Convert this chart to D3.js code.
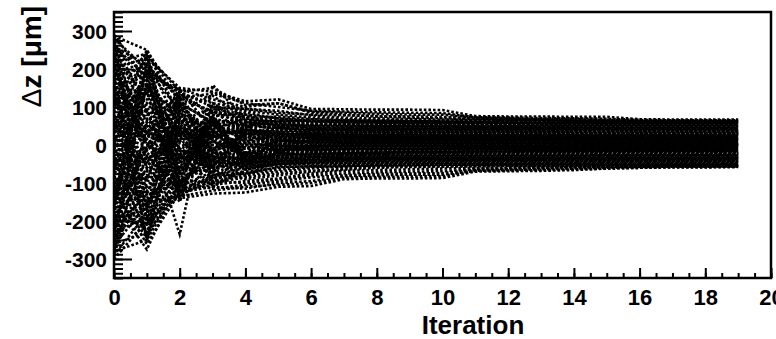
<!DOCTYPE html>
<html>
<head>
<meta charset="utf-8">
<script src="https://cdn.jsdelivr.net/npm/d3@7"></script>
<style>
  body { margin: 0; background: #fff; }
  svg { display: block; }
  text { font-family: "Liberation Sans", Arial, Helvetica, sans-serif; font-weight: bold; fill: #000; }
</style>
</head>
<body>
<svg id="chart" width="776" height="339"></svg>
<script>
// iteration index of every point
var iterations = d3.range(0, 20);

var xTicks = [0, 2, 4, 6, 8, 10, 12, 14, 16, 18, 20],
    yTicks = [-300, -200, -100, 0, 100, 200, 300];

// tracks that form the outer envelope
var edgeTracks = [
  [287, 250, 110, 60, 40, 30, 25, 22, 20, 20, 18, 18, 17, 17, 16, 16, 16, 15, 15, 15],
  [120, 40, -235, 158, 70, 45, 30, 25, 22, 20, 20, 19, 18, 18, 18, 17, 17, 17, 17, 17],
  [200, 230, 150, 140, 115, 120, 95, 94, 93, 93, 92, 76, 75, 75, 74, 74, 68, 67, 67, 67],
  [-150, -275, -90, -60, -40, -30, -25, -22, -20, -18, -18, -17, -17, -16, -16, -15, -15, -15, -15, -15],
  [-300, -200, -120, -80, -60, -50, -45, -40, -40, -38, -38, -37, -37, -36, -36, -36, -35, -35, -35, -35],
  [-220, -150, -140, -128, -125, -110, -108, -90, -88, -88, -87, -70, -69, -68, -66, -62, -60, -58, -58, -57],
  [260, 180, 148, 120, 100, 110, 88, 85, 82, 80, 80, 72, 70, 68, 68, 66, 64, 64, 63, 63],
  [-260, -230, -125, -110, -115, -100, -95, -82, -80, -78, -78, -68, -66, -64, -62, -60, -58, -57, -57, -56],
  [290, 170, 60, 100, 95, 85, 80, 78, 76, 75, 74, 70, 68, 66, 64, 62, 62, 61, 61, 61],
  [-280, -250, -100, -115, -105, -95, -85, -80, -76, -75, -74, -65, -64, -62, -60, -58, -56, -56, -55, -55],
  [150, 190, 140, 150, 105, 110, 85, 80, 75, 72, 70, 68, 66, 65, 64, 63, 62, 62, 62, 62],
  [260, 210, 125, 135, 110, 100, 90, 88, 86, 85, 84, 73, 72, 71, 70, 69, 66, 65, 65, 65],
  [-240, -150, -135, -120, -110, -105, -100, -86, -84, -83, -82, -68, -67, -66, -64, -62, -60, -59, -59, -58],
  [-120, -260, -125, -95, -100, -90, -80, -75, -72, -70, -69, -64, -62, -60, -58, -57, -56, -55, -55, -55]
];

// tracks ending in the upper half of the band
var upperTracks = [
  [245, -130, 85, 40, 25, 12, 8, 6, 5, 4, 4, 3, 3, 3, 2, 2, 2, 2, 2, 2],
  [180, 210, 120, 90, 70, 60, 55, 52, 50, 48, 47, 46, 46, 45, 45, 44, 44, 44, 44, 44],
  [100, 230, 40, 70, 50, 45, 40, 38, 36, 35, 35, 34, 34, 34, 33, 33, 33, 33, 33, 33],
  [30, 180, -80, 60, 10, 25, 20, 18, 17, 16, 15, 15, 14, 14, 14, 14, 13, 13, 13, 13],
  [210, 60, 130, 85, 75, 65, 60, 58, 57, 56, 56, 55, 55, 54, 54, 54, 53, 53, 53, 53],
  [150, -200, 50, -40, 30, 0, 10, 8, 7, 7, 6, 6, 6, 6, 5, 5, 5, 5, 5, 5],
  [270, 100, -20, 95, 80, 70, 62, 60, 59, 58, 58, 58, 58, 57, 57, 57, 57, 57, 57, 57],
  [60, 20, 100, 20, 40, 30, 28, 27, 26, 26, 25, 25, 25, 25, 25, 24, 24, 24, 24, 24],
  [0, 140, -140, 70, -50, 20, -5, 0, 2, 3, 3, 4, 4, 4, 4, 4, 4, 4, 4, 4],
  [130, -60, 60, -80, 55, -20, 15, 10, 11, 11, 11, 11, 11, 11, 11, 10, 10, 10, 10, 10],
  [220, 240, 140, 100, 90, 80, 72, 68, 66, 64, 63, 62, 61, 61, 60, 60, 60, 60, 60, 60],
  [80, -90, 110, 60, 65, 50, 48, 45, 43, 42, 41, 40, 40, 40, 40, 39, 39, 39, 39, 39],
  [170, 120, 30, 50, 35, 30, 30, 29, 29, 29, 29, 29, 28, 28, 28, 28, 28, 28, 28, 28],
  [40, 250, 70, -10, 20, 15, 20, 21, 21, 21, 21, 21, 21, 21, 21, 21, 21, 20, 20, 20],
  [200, -30, -110, 30, 60, 40, 38, 37, 37, 37, 36, 36, 36, 36, 36, 36, 36, 36, 36, 36],
  [110, 160, 20, 110, 60, 55, 50, 50, 50, 50, 50, 49, 49, 49, 49, 49, 49, 49, 49, 49],
  [280, 200, 90, 130, 70, 75, 68, 65, 64, 63, 62, 61, 59, 58, 58, 57, 56, 56, 56, 56],
  [20, -40, 40, 0, 10, 8, 6, 7, 7, 8, 8, 8, 8, 8, 8, 8, 8, 8, 8, 8],
  [160, -150, -80, 100, 40, 35, 33, 32, 31, 31, 31, 31, 30, 30, 30, 30, 30, 30, 30, 30],
  [70, 90, -120, 20, 45, 22, 18, 17, 16, 16, 16, 16, 16, 16, 16, 16, 16, 16, 16, 16],
  [240, 30, 140, 75, 85, 70, 65, 62, 61, 60, 60, 59, 59, 58, 58, 58, 58, 58, 58, 58],
  [-10, 110, 10, 45, 30, 27, 24, 23, 23, 23, 23, 23, 23, 23, 22, 22, 22, 22, 22, 22],
  [190, -250, 60, 55, 50, 45, 42, 42, 41, 41, 41, 41, 41, 41, 41, 41, 41, 41, 41, 41],
  [90, 10, -60, 25, -10, 10, 12, 13, 13, 13, 13, 13, 13, 13, 12, 12, 12, 12, 12, 12],
  [140, 70, -40, 65, 55, 50, 48, 47, 47, 47, 47, 47, 47, 47, 47, 47, 47, 47, 47, 47],
  [50, -190, 130, -60, 60, 52, 53, 53, 53, 52, 52, 52, 52, 52, 52, 52, 52, 52, 52, 52],
  [230, 130, 100, 35, 30, 20, 18, 18, 18, 18, 18, 18, 18, 18, 18, 18, 18, 18, 18, 18]
];

// tracks ending in the lower half of the band
var lowerTracks = [
  [-240, 160, -70, 30, -20, -10, -6, -4, -3, -3, -2, -2, -2, -2, -1, -1, -1, -1, -1, -1],
  [-190, -210, -110, -70, -55, -50, -48, -46, -45, -44, -44, -43, -43, -43, -42, -42, -42, -42, -42, -42],
  [-80, -240, -30, -60, -45, -40, -35, -33, -32, -31, -30, -30, -30, -29, -29, -29, -29, -28, -28, -28],
  [-30, -170, 90, -50, 0, -15, -12, -11, -10, -10, -9, -9, -9, -8, -8, -8, -8, -8, -8, -8],
  [-210, -60, -130, -95, -80, -70, -62, -56, -53, -52, -51, -50, -50, -50, -49, -49, -49, -49, -48, -48],
  [-150, 200, -50, 40, -30, 5, -12, -14, -15, -16, -16, -16, -16, -17, -17, -17, -17, -17, -17, -17],
  [-270, -100, 20, -90, -70, -60, -55, -53, -52, -51, -51, -51, -51, -50, -50, -50, -50, -50, -50, -50],
  [-60, -20, -100, -20, -40, -25, -22, -21, -20, -20, -20, -20, -19, -19, -19, -19, -19, -19, -19, -19],
  [-130, 60, -60, 80, -55, 20, -15, -10, -11, -11, -11, -11, -11, -11, -10, -10, -10, -10, -10, -10],
  [-230, -190, -90, -100, -85, -75, -68, -62, -58, -56, -55, -54, -54, -54, -53, -53, -53, -53, -53, -53],
  [-90, 90, -95, -30, -60, -45, -40, -38, -37, -36, -36, -36, -35, -35, -35, -35, -35, -35, -35, -35],
  [-170, -120, -30, -50, -35, -30, -27, -25, -25, -24, -24, -24, -24, -24, -24, -23, -23, -23, -23, -23],
  [-40, -230, -70, 10, -20, -5, -5, -6, -6, -6, -6, -6, -6, -6, -6, -6, -5, -5, -5, -5],
  [-200, 30, 110, -30, -60, -40, -34, -33, -33, -32, -32, -32, -32, -32, -32, -32, -31, -31, -31, -31],
  [-110, -160, -20, -110, -65, -50, -47, -47, -46, -46, -46, -46, -46, -46, -46, -45, -45, -45, -45, -45],
  [-290, -180, -60, -70, -90, -80, -70, -65, -60, -58, -57, -56, -55, -55, -54, -54, -54, -53, -53, -53],
  [-20, 40, -40, 0, -10, -8, -3, -2, -2, -2, -3, -3, -3, -3, -3, -3, -3, -3, -3, -3],
  [-160, 150, 80, -100, -40, -30, -28, -27, -27, -27, -26, -26, -26, -26, -26, -26, -26, -26, -26, -26],
  [-70, -90, 120, -20, -25, -15, -13, -13, -13, -13, -13, -13, -13, -13, -13, -13, -13, -13, -13, -13],
  [-250, -30, -120, -85, -75, -65, -58, -55, -54, -53, -52, -52, -51, -51, -51, -51, -51, -51, -51, -51],
  [10, -110, -10, -45, -30, -24, -22, -22, -22, -21, -21, -21, -21, -21, -21, -21, -21, -21, -21, -21],
  [-180, 220, -100, -45, -50, -42, -40, -40, -40, -39, -39, -39, -39, -39, -38, -38, -38, -38, -38, -38],
  [-100, -10, 50, -15, 5, -3, -1, 0, 0, 1, 1, 1, 1, 1, 1, 1, 1, 1, 1, 1],
  [-140, -70, 40, -65, -45, -44, -43, -43, -44, -44, -44, -44, -44, -44, -44, -44, -44, -44, -44, -44],
  [-50, 190, -130, 60, -45, -35, -32, -33, -33, -33, -33, -33, -33, -33, -33, -33, -33, -33, -33, -33],
  [-220, -130, -100, -35, -30, -20, -18, -18, -18, -18, -18, -18, -18, -18, -18, -18, -18, -18, -18, -18]
];

// tracks that cross the whole band early on
var crossTracks = [
  [275, -210, 20, 50, 15, 30, 25, 27, 26, 28, 27, 27, 26, 27, 26, 26, 27, 26, 26, 26],
  [-285, 215, -15, -40, -20, -25, -24, -22, -23, -22, -22, -23, -22, -22, -22, -21, -22, -21, -21, -21],
  [205, 5, -150, 90, 30, 45, 38, 40, 39, 40, 39, 39, 38, 38, 38, 38, 37, 37, 37, 37],
  [-205, -5, 150, -90, -30, -40, -36, -37, -36, -37, -36, -36, -36, -35, -35, -35, -35, -35, -35, -35],
  [125, 245, 80, 20, 60, 35, 42, 40, 43, 42, 43, 43, 43, 43, 43, 43, 43, 43, 43, 43],
  [-125, -245, -80, -20, -55, -30, -38, -36, -38, -37, -38, -38, -38, -37, -37, -37, -37, -37, -37, -37],
  [255, 80, 110, 15, 50, 25, 32, 30, 31, 32, 32, 32, 32, 32, 32, 32, 32, 31, 31, 31],
  [-255, -80, -110, -15, -50, -20, -28, -26, -27, -28, -28, -28, -28, -28, -28, -27, -27, -27, -27, -27],
  [75, -160, 145, 40, 70, 58, 60, 57, 58, 57, 58, 57, 57, 57, 57, 56, 56, 56, 56, 56],
  [-75, 160, -145, -40, -65, -50, -50, -49, -50, -49, -49, -49, -49, -49, -49, -48, -48, -48, -48, -48],
  [185, 90, -30, 10, 0, 3, 1, 2, 1, 2, 2, 1, 1, 1, 1, 1, 1, 1, 1, 1],
  [-185, -90, 30, -10, 0, -2, -4, -3, -4, -4, -4, -4, -4, -4, -4, -4, -4, -4, -4, -4],
  [35, 235, -110, 110, 50, 60, 52, 55, 54, 55, 55, 55, 54, 54, 54, 54, 54, 54, 54, 54],
  [-35, -235, 110, -110, -50, -55, -48, -48, -47, -48, -47, -47, -47, -47, -47, -47, -47, -47, -47, -47],
  [265, 155, 30, -20, 25, 5, 10, 9, 9, 9, 9, 9, 9, 9, 9, 9, 9, 9, 9, 9],
  [-265, -155, -30, 20, -25, -5, -8, -7, -7, -7, -7, -7, -7, -7, -7, -7, -7, -7, -7, -7],
  [145, -245, 95, -75, 35, 15, 18, 16, 15, 15, 15, 15, 15, 15, 15, 15, 15, 15, 15, 15],
  [-145, 240, -95, 75, -35, -10, -14, -12, -12, -12, -12, -12, -12, -12, -12, -12, -12, -12, -12, -12],
  [5, 200, 135, 80, 65, 62, 64, 63, 63, 63, 63, 63, 62, 62, 62, 62, 62, 62, 62, 62],
  [-5, -200, -135, -80, -75, -58, -56, -57, -56, -56, -56, -56, -55, -55, -55, -55, -55, -55, -55, -55],
  [235, -170, 70, 25, 40, 20, 24, 22, 24, 24, 24, 24, 24, 24, 24, 24, 24, 24, 24, 24],
  [-235, 170, -70, -25, -40, -15, -20, -18, -19, -19, -19, -19, -19, -19, -19, -19, -19, -19, -19, -19],
  [95, 140, 65, -55, 20, -20, -2, -1, -2, -1, -1, -1, -1, -1, -1, -1, -1, -1, -1, -1],
  [-95, -140, -65, 55, -20, 18, 6, 5, 6, 6, 6, 6, 6, 6, 6, 6, 6, 6, 6, 6],
  [165, 15, -125, 45, 80, 48, 46, 45, 45, 45, 45, 45, 45, 45, 45, 45, 45, 45, 45, 45],
  [-165, -15, 125, -45, -80, -42, -41, -41, -41, -41, -41, -41, -41, -41, -41, -41, -41, -41, -41, -41],
  [285, -50, 135, 110, 95, 90, 78, 72, 70, 68, 67, 66, 65, 65, 64, 64, 64, 64, 64, 64],
  [-295, 50, -120, -105, -95, -88, -75, -68, -66, -64, -62, -60, -59, -58, -57, -57, -57, -56, -56, -56],
  [55, -55, 15, 35, -30, 12, 19, 19, 19, 19, 19, 19, 19, 19, 19, 19, 19, 19, 19, 19],
  [-55, 55, -15, -35, 30, -10, -16, -15, -15, -15, -15, -15, -15, -15, -15, -15, -15, -15, -15, -15]
];

// tracks staying near the middle from the first iteration on
var centreTracks = [
  [110, 30, -5, 30, 5, 15, 14, 14, 14, 14, 14, 14, 14, 14, 14, 14, 14, 14, 14, 14],
  [-110, -35, 5, -30, -5, -12, -10, -10, -10, -10, -10, -10, -10, -10, -10, -10, -10, -10, -10, -10],
  [15, 65, 25, -60, 40, 28, 30, 30, 29, 29, 29, 29, 29, 29, 29, 29, 29, 29, 29, 29],
  [-15, -65, -25, 60, -40, -24, -26, -26, -25, -25, -25, -25, -25, -25, -25, -25, -25, -25, -25, -25],
  [200, 0, 45, -10, 30, 40, 35, 35, 35, 35, 35, 35, 35, 35, 35, 35, 35, 35, 35, 35],
  [-200, 0, -45, 10, -30, -34, -32, -32, -32, -32, -32, -32, -32, -32, -32, -32, -32, -32, -32, -32]
];

var tracks = edgeTracks.concat(upperTracks, lowerTracks, crossTracks, centreTracks);

var svg = d3.select("#chart"),
    MARGINS = { top: 12, right: 5, bottom: 61, left: 114 },
    WIDTH = +svg.attr("width"),
    HEIGHT = +svg.attr("height");

var xScale = d3.scaleLinear().domain([0, 20]).range([MARGINS.left, WIDTH - MARGINS.right]),
    yScale = d3.scaleLinear().domain([-350, 350]).range([HEIGHT - MARGINS.bottom, MARGINS.top]);

// clip the tracks to the frame
svg.append("clipPath").attr("id", "frame-clip")
  .append("rect")
    .attr("x", xScale(0)).attr("y", yScale(350))
    .attr("width", xScale(20) - xScale(0))
    .attr("height", yScale(-350) - yScale(350));

var lineGen = d3.line()
    .x(function(d, i) { return xScale(iterations[i]); })
    .y(function(d) { return yScale(d); });

svg.append("g")
    .attr("clip-path", "url(#frame-clip)")
  .selectAll("path")
  .data(tracks)
  .enter().append("path")
    .attr("d", lineGen)
    .attr("fill", "none")
    .attr("stroke", "#000")
    .attr("stroke-width", 2.6)
    .attr("stroke-dasharray", "2.6,2");

// plain hyphen minus like the original labels
var numFormat = function(d) { return String(d); };

// x axis: ticks point into the frame
var xAxis = d3.axisBottom(xScale)
    .tickValues(xTicks)
    .tickSizeInner(-10).tickSizeOuter(0)
    .tickPadding(11)
    .tickFormat(numFormat);

var xMinor = d3.axisBottom(xScale)
    .tickValues(d3.range(0, 20.01, 0.5))
    .tickSizeInner(-5).tickSizeOuter(0)
    .tickFormat("");

var gx = svg.append("g")
    .attr("transform", "translate(0," + yScale(-350) + ")");
gx.call(xMinor);
gx.append("g").call(xAxis);

var yAxis = d3.axisLeft(yScale)
    .tickValues(yTicks)
    .tickSizeInner(-18).tickSizeOuter(0)
    .tickPadding(7)
    .tickFormat(numFormat);

var yMinor = d3.axisLeft(yScale)
    .tickValues(d3.range(-350, 350.01, 12.5))
    .tickSizeInner(-9).tickSizeOuter(0)
    .tickFormat("");

var gy = svg.append("g")
    .attr("transform", "translate(" + xScale(0) + ",0)");
gy.call(yMinor);
gy.append("g").call(yAxis);

svg.selectAll(".domain").remove();
svg.selectAll(".tick line").attr("stroke", "#000").attr("stroke-width", 2);
gx.selectAll(".tick text").attr("font-size", 22).attr("font-family", null);
gy.selectAll(".tick text").attr("font-size", 21).attr("font-family", null).attr("dy", "0.36em");

// frame
svg.append("rect")
    .attr("x", xScale(0)).attr("y", yScale(350))
    .attr("width", xScale(20) - xScale(0))
    .attr("height", yScale(-350) - yScale(350))
    .attr("fill", "none")
    .attr("stroke", "#000")
    .attr("stroke-width", 2.5);

// axis titles
svg.append("text")
    .attr("x", 473).attr("y", 334)
    .attr("text-anchor", "middle")
    .attr("font-size", 26)
    .text("Iteration");

var yTitle = svg.append("text")
    .attr("transform", "translate(41,6) rotate(-90)")
    .attr("text-anchor", "end")
    .attr("font-size", 28);
yTitle.append("tspan").attr("font-weight", "normal").text("\u0394");
yTitle.append("tspan").text("z [\u03bcm]");
</script>
</body>
</html>
